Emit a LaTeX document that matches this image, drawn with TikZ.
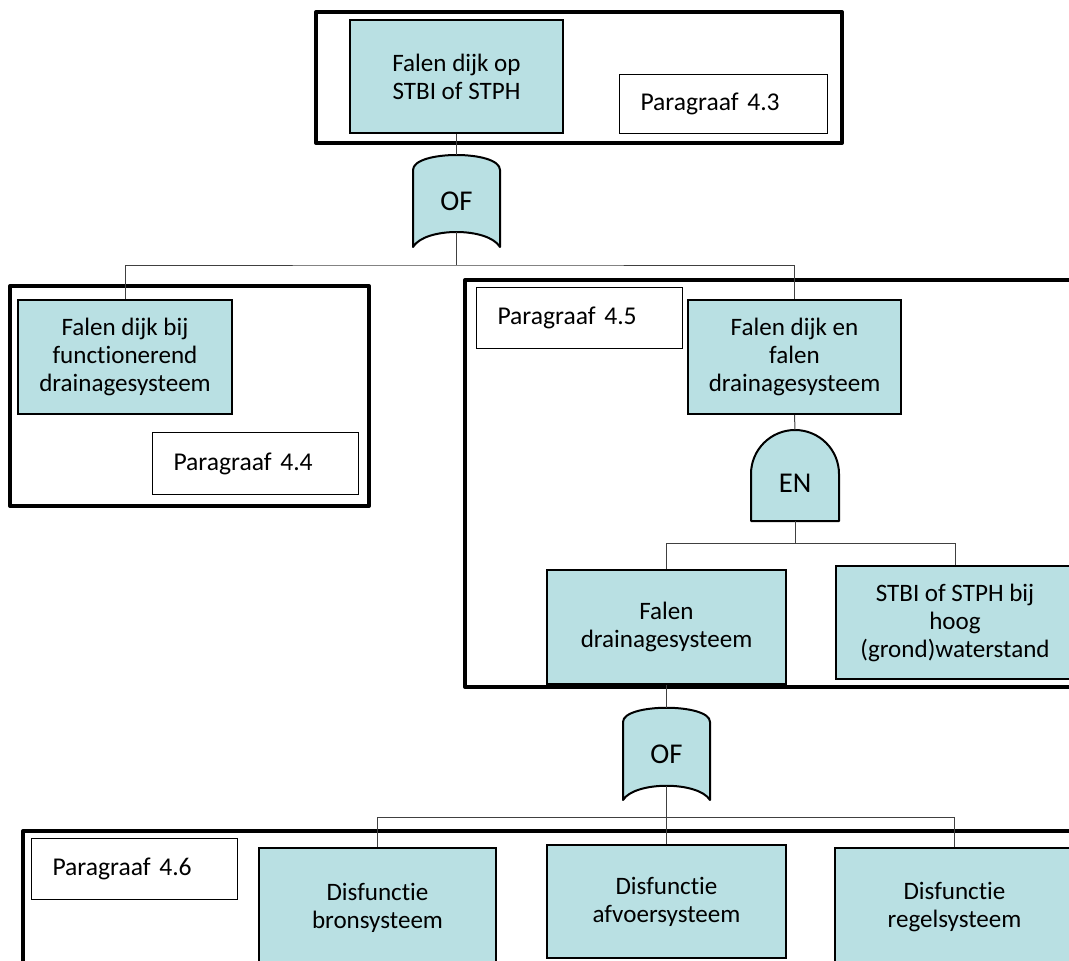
\documentclass[tikz,border=0pt]{standalone}
\usepackage{fontspec}
\setmainfont{Carlito}[Ligatures=NoCommon]
\definecolor{eventfill}{RGB}{185,224,227}
\definecolor{wirecol}{RGB}{64,64,64}

\begin{document}
\begin{tikzpicture}[x=0.75pt,y=-0.75pt,
  frame/.style={draw=black, line width=3pt, line join=round},
  event/.style={draw=black, line width=1.5pt, fill=eventfill, inner sep=0pt,
    align=center, font=\fontsize{18.8pt}{21pt}\selectfont},
  para/.style={draw=black, line width=0.75pt, fill=white, anchor=north west,
    inner xsep=15.75pt, inner ysep=0pt, align=left,
    font=\fontsize{19.2pt}{21pt}\selectfont},
  gate/.style={draw=black, line width=1.5pt, fill=eventfill, line join=round},
  gatelabel/.style={inner sep=0pt, font=\fontsize{21.5pt}{24pt}\selectfont},
  wire/.style={draw=wirecol, line width=0.75pt}
]
\useasboundingbox (0,0) rectangle (1069,960);
\clip (0,0) rectangle (1069,960);

% section frames
\draw[frame] (316,12) rectangle (842,143);
\draw[frame] (10,286) rectangle (369,506);
\draw[frame] (465,280) rectangle (1090,687);
\draw[frame] (23,831) rectangle (1090,990);

% events
\node[event, minimum width=159.75pt, minimum height=84.75pt] (top) at (456.5,76.5) {Falen dijk op\\STBI of STPH};
\node[event, minimum width=160.5pt, minimum height=85.5pt] (left) at (125,357) {Falen dijk bij\\functionerend\\drainagesysteem};
\node[event, minimum width=159.75pt, minimum height=85.5pt] (both) at (794.5,357) {Falen dijk en\\falen\\drainagesysteem};
\node[event, minimum width=179.25pt, minimum height=85.5pt] (drain) at (666.5,627) {Falen\\drainagesysteem};
\node[event, minimum width=178.5pt, minimum height=84.75pt] (high) at (955,622.5) {STBI of STPH bij\\hoog\\(grond)waterstand};
\node[event, minimum width=177.75pt, minimum height=89.25pt] (bron) at (377.5,907.5) {Disfunctie\\bronsysteem};
\node[event, minimum width=179.25pt, minimum height=84.75pt] (afvoer) at (666.5,901.5) {Disfunctie\\afvoersysteem};
\node[event, minimum width=179.25pt, minimum height=89.25pt] (regel) at (954.5,907.5) {Disfunctie\\regelsysteem};

% section labels
\node[para, minimum height=44.25pt, text width=124.5pt] (p43) at (619,74) {Paragraaf 4.3};
\node[para, minimum height=46.5pt, text width=123pt] (p44) at (152,432) {Paragraaf 4.4};
\node[para, minimum height=45.75pt, text width=123pt] (p45) at (476,287) {Paragraaf 4.5};
\node[para, minimum height=45.75pt, text width=123pt] (p46) at (31,838) {Paragraaf 4.6};

% OF gate (top)
\draw[gate] (413,170) .. controls (413,150) and (500,150) .. (500,170)
  -- (500,247) .. controls (488,227) and (425,227) .. (413,247) -- cycle;
\node[gatelabel, minimum width=65.25pt, minimum height=69pt] (or1) at (456.5,201) {OF};
\coordinate (or1out) at (456.5,232);

% EN gate
\draw[gate] (751,521) -- (751,474) arc[start angle=180, end angle=0, radius=33pt]
  -- (839,521) -- cycle;
\node[gatelabel, minimum width=66pt, minimum height=68.25pt, text height=24.8pt, text depth=0pt] (and1) at (795,475.5) {EN};

% OF gate (bottom)
\draw[gate] (623,722) .. controls (623,703) and (710,703) .. (710,722)
  -- (710,800) .. controls (698,781) and (635,781) .. (623,800) -- cycle;
\node[gatelabel, minimum width=65.25pt, minimum height=69pt] (or2) at (666.5,754) {OF};
\coordinate (or2out) at (666.5,786);

% connectors
\coordinate (j1) at (456.5,265);
\coordinate (j2) at (795,543);
\coordinate (j3) at (666.5,817);
\draw[wire] (top.south) -- (or1.north);
\draw[wire] (or1out) -- (j1);
\draw[wire] (left.north) |- (j1) -| (both.north);
\draw[wire] (both.south) -- (and1.north);
\draw[wire] (and1.south) -- (j2);
\draw[wire] (drain.north) |- (j2) -| (high.north);
\draw[wire] (drain.south) -- (or2.north);
\draw[wire] (or2out) -- (j3);
\draw[wire] (bron.north) |- (j3) -| (regel.north);
\draw[wire] (j3) -- (afvoer.north);
\end{tikzpicture}
\end{document}
